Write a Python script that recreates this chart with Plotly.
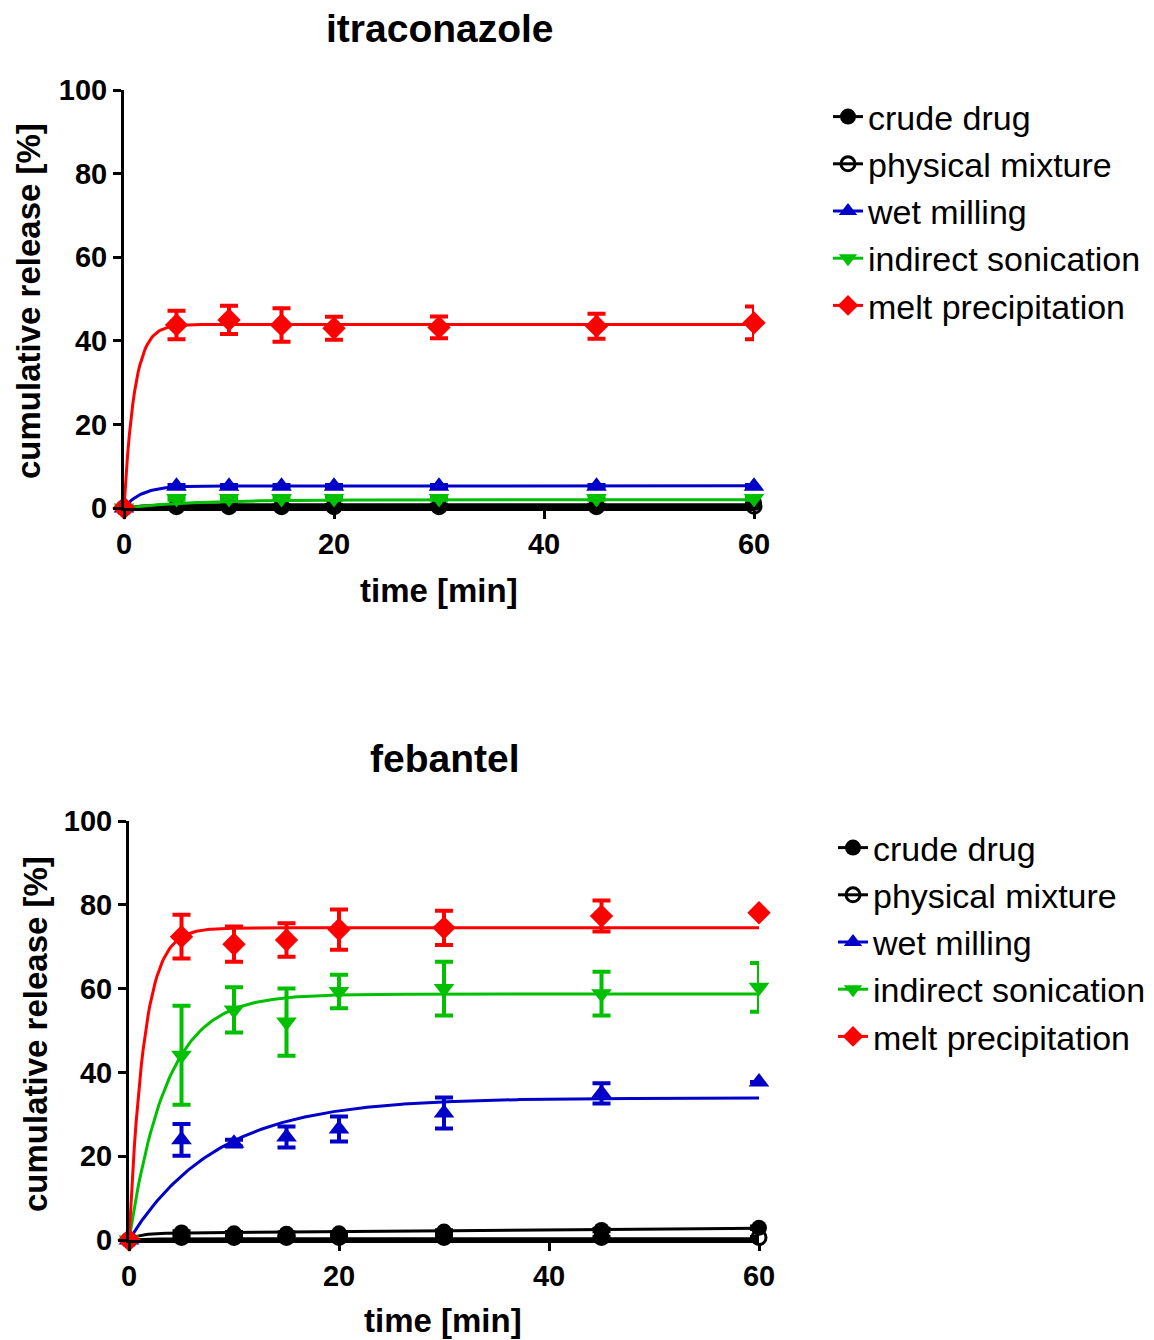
import numpy as np
import plotly.graph_objects as go

# ---------------- data ----------------
series_names = ["crude drug", "physical mixture", "wet milling", "indirect sonication", "melt precipitation"]
series_colors = ["#000000", "#000000", "#0000C8", "#00C000", "#FF0000"]
series_symbols = ["circle", "circle-open", "triangle-up", "triangle-down", "diamond"]
series_sizes = [16, 14, 18, 18, 18]

time_min = [0, 5, 10, 15, 20, 30, 45, 60]

# itraconazole: mean release [%] and SD
itra_crude = [0, 0.4, 0.4, 0.4, 0.5, 0.6, 0.6, 1.2]
itra_crude_sd = [0, 0.2, 0.2, 0.2, 0.2, 0.2, 0.2, 0.3]
itra_phys = [0, 0.3, 0.3, 0.3, 0.3, 0.3, 0.3, 0.4]
itra_phys_sd = [0, 0.1, 0.1, 0.1, 0.1, 0.1, 0.1, 0.1]
itra_wet = [0, 5.2, 5.2, 5.2, 5.2, 5.2, 5.2, 5.2]
itra_wet_sd = [0, 0.3, 0.3, 0.3, 0.3, 0.3, 0.3, 0.3]
itra_sono = [0, 2.3, 2.3, 2.3, 2.3, 2.3, 2.3, 2.3]
itra_sono_sd = [0, 0.3, 0.3, 0.3, 0.3, 0.3, 0.3, 0.3]
itra_melt = [0, 43.8, 45.0, 43.8, 43.0, 43.2, 43.5, 44.3]
itra_melt_sd = [0, 3.4, 3.4, 4.0, 2.75, 2.6, 3.0, 3.9]

# febantel: mean release [%] and SD
feb_crude = [0, 1.8, 1.6, 1.5, 1.6, 2.0, 2.4, 2.9]
feb_crude_sd = [0, 0.3, 0.3, 0.3, 0.3, 0.3, 0.3, 0.3]
feb_phys = [0, 0.6, 0.6, 0.6, 0.6, 0.6, 0.6, 0.6]
feb_phys_sd = [0, 0.1, 0.1, 0.1, 0.1, 0.1, 0.1, 0.1]
feb_wet = [0, 23.9, 23.1, 24.6, 26.5, 30.3, 35.0, 37.7]
feb_wet_sd = [0, 3.8, 0.8, 2.5, 3.0, 3.7, 2.4, 0]
feb_sono = [0, 44.1, 54.9, 52.0, 59.3, 60.0, 58.8, 60.3]
feb_sono_sd = [0, 11.8, 5.4, 8.0, 4.0, 6.4, 5.2, 5.8]
feb_melt = [0, 72.4, 70.6, 71.6, 74.1, 74.5, 77.3, 78.1]
feb_melt_sd = [0, 5.2, 4.2, 4.0, 4.8, 4.1, 3.7, 0]

# one-phase association fit parameters: plateau, rate k [1/min], drift [%/min]
itra_plateau = [0.8, 0.3, 5.3, 2.0, 43.9]
itra_k = [0.5, 0.5, 0.6, 0.15, 1.0]
itra_drift = [0, 0, 0, 0, 0]
feb_plateau = [1.6, 0.3, 33.9, 58.7, 74.5]
feb_k = [1.0, 0.5, 0.12, 0.28, 0.7]
feb_drift = [0.02, 0, 0, 0, 0]

x_ticks = [0, 20, 40, 60]
y_ticks = [0, 20, 40, 60, 80, 100]

# ---------------- figure ----------------
PAGE_OFF = 8  # default body margin of the html page
W, H = 1154 - PAGE_OFF, 1340 - PAGE_OFF
fig = go.Figure()
FONT = "Liberation Sans, Arial, sans-serif"

t_fit = np.linspace(0, 60, 361)

panels = [
    dict(xa="x", ya="y", legend="legend",
         means=[itra_crude, itra_phys, itra_wet, itra_sono, itra_melt],
         sds=[itra_crude_sd, itra_phys_sd, itra_wet_sd, itra_sono_sd, itra_melt_sd],
         plateau=itra_plateau, k=itra_k, drift=itra_drift),
    dict(xa="x2", ya="y2", legend="legend2",
         means=[feb_crude, feb_phys, feb_wet, feb_sono, feb_melt],
         sds=[feb_crude_sd, feb_phys_sd, feb_wet_sd, feb_sono_sd, feb_melt_sd],
         plateau=feb_plateau, k=feb_k, drift=feb_drift),
]

for p in panels:
    for i, name in enumerate(series_names):
        col = series_colors[i]
        yfit = p["plateau"][i] * (1 - np.exp(-p["k"][i] * t_fit)) + p["drift"][i] * t_fit
        fig.add_trace(go.Scatter(
            x=t_fit, y=yfit, mode="lines", line=dict(color=col, width=3),
            xaxis=p["xa"], yaxis=p["ya"], showlegend=False, hoverinfo="skip",
            cliponaxis=False))
        marker = dict(symbol=series_symbols[i], size=series_sizes[i], color=col)
        if series_symbols[i] == "circle-open":
            marker["line"] = dict(color=col, width=3)
        fig.add_trace(go.Scatter(
            x=time_min, y=p["means"][i], mode="markers", marker=marker,
            error_y=dict(type="data", array=p["sds"][i], color=col, thickness=4, width=9),
            xaxis=p["xa"], yaxis=p["ya"], showlegend=False, cliponaxis=False, name=name))
        # legend entry
        fig.add_trace(go.Scatter(
            x=[None], y=[None], mode="lines+markers", name=name,
            line=dict(color=col, width=3), marker=marker,
            xaxis=p["xa"], yaxis=p["ya"], legend=p["legend"], showlegend=True))

axis_common = dict(
    showline=True, linecolor="black", linewidth=3, ticks="outside", ticklen=8,
    tickwidth=3, tickcolor="black", showgrid=False, zeroline=False, automargin=False,
    tickfont=dict(family=FONT, size=29, color="black", weight="bold"),
)

def px_x(v):
    return (v - PAGE_OFF) / W

def px_y(v):
    return 1 - (v - PAGE_OFF) / H

fig.update_layout(
    width=W, height=H, margin=dict(l=0, r=0, t=0, b=0, autoexpand=False),
    paper_bgcolor="white", plot_bgcolor="white",
    font=dict(family=FONT, color="black"),
    xaxis=dict(domain=[px_x(124), px_x(754)], anchor="y", range=[0, 60], tickvals=x_ticks, **axis_common),
    yaxis=dict(domain=[px_y(508), px_y(90)], anchor="x", range=[0, 100], tickvals=y_ticks, **axis_common),
    xaxis2=dict(domain=[px_x(129), px_x(759)], anchor="y2", range=[0, 60], tickvals=x_ticks, **axis_common),
    yaxis2=dict(domain=[px_y(1240), px_y(821)], anchor="x2", range=[0, 100], tickvals=y_ticks, **axis_common),
    legend=dict(x=px_x(828), y=px_y(88), xanchor="left", yanchor="top",
                font=dict(family=FONT, size=34, color="black"), bgcolor="rgba(0,0,0,0)",
                itemwidth=30),
    legend2=dict(x=px_x(833), y=px_y(819), xanchor="left", yanchor="top",
                 font=dict(family=FONT, size=34, color="black"), bgcolor="rgba(0,0,0,0)",
                 itemwidth=30),
)

annos = [
    dict(text="itraconazole", x=px_x(440), y=px_y(29), size=39),
    dict(text="febantel", x=px_x(445), y=px_y(758), size=39),
    dict(text="time [min]", x=px_x(439), y=px_y(590), size=33),
    dict(text="time [min]", x=px_x(443), y=px_y(1320), size=33),
]
for a in annos:
    fig.add_annotation(text=a["text"], x=a["x"], y=a["y"], xref="paper", yref="paper",
                       xanchor="center", yanchor="middle", showarrow=False,
                       font=dict(family=FONT, size=a["size"], color="black", weight="bold"))
for (cx, cy) in [(28, 301), (35, 1034)]:
    fig.add_annotation(text="cumulative release [%]", x=px_x(cx), y=px_y(cy), xref="paper", yref="paper",
                       xanchor="center", yanchor="middle", showarrow=False, textangle=-90,
                       font=dict(family=FONT, size=33, color="black", weight="bold"))

fig.write_html("out.html")
